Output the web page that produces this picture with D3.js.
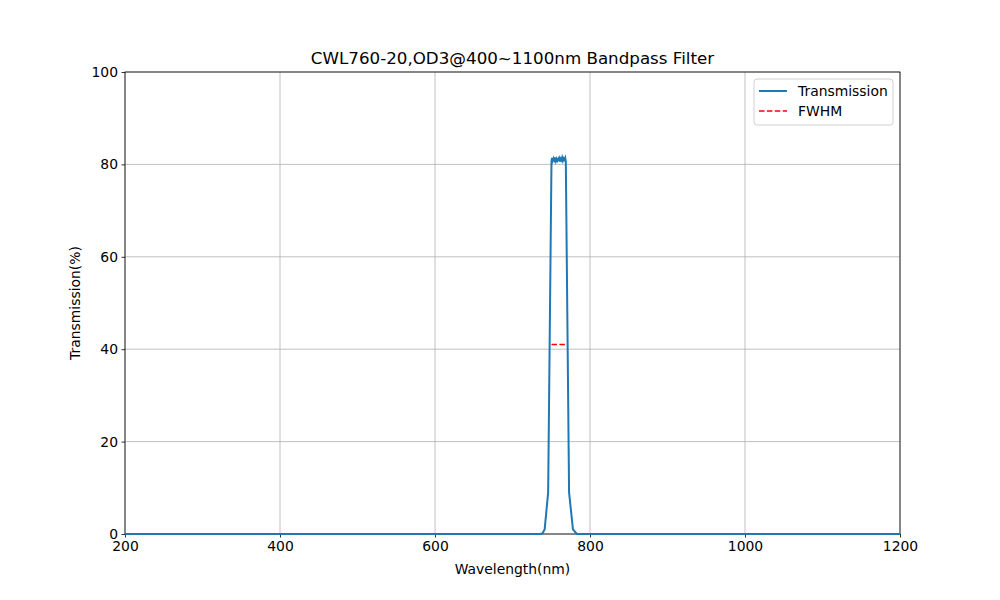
<!DOCTYPE html>
<html>
<head>
<meta charset="utf-8">
<script src="https://cdn.jsdelivr.net/npm/d3@7"></script>
<style>
  body { margin: 0; background: #fff; }
  text { font-family: "DejaVu Sans", sans-serif; }
</style>
</head>
<body>
<div id="chart"></div>
<script>
// transmission curve (nm, %)
var wavelength = [200, 400, 600, 700, 735, 738.5, 741.5, 746, 750.3, 751, 752, 753, 754, 755, 756, 757, 758, 759, 760, 761, 762, 763, 764, 765, 766, 767, 768, 768.8, 773, 778, 783, 790, 900, 1100, 1200];
var transmission = [0, 0, 0, 0, 0, 0.1, 1, 9, 80.6, 81.4, 80.8, 81.3, 80.9, 81.5, 80.7, 81.2, 80.8, 81.1, 81.4, 80.6, 81.2, 80.9, 81.5, 80.8, 81.3, 81.0, 81.4, 80.6, 9, 1, 0, 0, 0, 0, 0];
// full width at half maximum
var fwhmX = [750.3, 769.3];
var fwhmY = [41, 41];

var xTicks = [200, 400, 600, 800, 1000, 1200];
var yTicks = [0, 20, 40, 60, 80, 100];

var margin = {top: 72, right: 100, bottom: 66, left: 125},
    width = 1000 - margin.left - margin.right,
    height = 600 - margin.top - margin.bottom;

var svg = d3.select("#chart")
  .append("svg")
  .attr("width", 1000)
  .attr("height", 600)
  .append("g")
  .attr("transform", "translate(" + margin.left + "," + margin.top + ")");

var x = d3.scaleLinear().domain([200, 1200]).range([0, width]);
var y = d3.scaleLinear().domain([0, 100]).range([height, 0]);

// grid
svg.append("g").selectAll("line").data(xTicks).enter().append("line")
  .attr("x1", function(d) { return x(d); })
  .attr("x2", function(d) { return x(d); })
  .attr("y1", 0).attr("y2", height)
  .style("stroke", "#b0b0b0").style("stroke-width", 0.8);
svg.append("g").selectAll("line").data(yTicks).enter().append("line")
  .attr("y1", function(d) { return y(d); })
  .attr("y2", function(d) { return y(d); })
  .attr("x1", 0).attr("x2", width)
  .style("stroke", "#b0b0b0").style("stroke-width", 0.8);

// axes
var xAxis = svg.append("g")
  .attr("transform", "translate(0," + height + ")")
  .call(d3.axisBottom(x).tickValues(xTicks).tickSize(3.5).tickPadding(3.5).tickFormat(d3.format("d")));
var yAxis = svg.append("g")
  .call(d3.axisLeft(y).tickValues(yTicks).tickSize(3.5).tickPadding(3.5));
[xAxis, yAxis].forEach(function(a) {
  a.select(".domain").remove();
  a.selectAll("text").style("font-size", "13.9px").style("fill", "#000");
  a.selectAll("line").style("stroke", "#000").style("stroke-width", 0.8);
});

// frame
svg.append("rect")
  .attr("width", width).attr("height", height)
  .style("fill", "none").style("stroke", "#000").style("stroke-width", 0.8);

// transmission line
var pts = wavelength.map(function(d, i) { return [d, transmission[i]]; });
var line = d3.line()
  .x(function(d) { return x(d[0]); })
  .y(function(d) { return y(d[1]); });
svg.append("path")
  .datum(pts)
  .attr("d", line)
  .style("fill", "none")
  .style("stroke", "#1f77b4")
  .style("stroke-width", 2);

// FWHM
svg.append("path")
  .datum(fwhmX.map(function(d, i) { return [d, fwhmY[i]]; }))
  .attr("d", line)
  .style("fill", "none")
  .style("stroke", "red")
  .style("stroke-width", 1.5)
  .style("stroke-dasharray", "5.5,2.4");

// labels
svg.append("text")
  .attr("x", width / 2).attr("y", -8)
  .style("text-anchor", "middle")
  .style("font-size", "16.7px")
  .text("CWL760-20,OD3@400~1100nm Bandpass Filter");
svg.append("text")
  .attr("x", width / 2).attr("y", height + 40)
  .style("text-anchor", "middle")
  .style("font-size", "13.9px")
  .text("Wavelength(nm)");
svg.append("text")
  .attr("transform", "rotate(-90)")
  .attr("x", -height / 2).attr("y", -45)
  .style("text-anchor", "middle")
  .style("font-size", "13.9px")
  .text("Transmission(%)");

// legend
var lg = svg.append("g").attr("transform", "translate(" + (width - 146) + ",7)");
lg.append("rect")
  .attr("width", 139).attr("height", 46).attr("rx", 3)
  .style("fill", "#fff").style("fill-opacity", 0.8)
  .style("stroke", "#d0d0d0").style("stroke-width", 1);
lg.append("line").attr("x1", 5).attr("x2", 33).attr("y1", 12).attr("y2", 12)
  .style("stroke", "#1f77b4").style("stroke-width", 2);
lg.append("line").attr("x1", 5).attr("x2", 33).attr("y1", 32).attr("y2", 32)
  .style("stroke", "red").style("stroke-width", 1.5).style("stroke-dasharray", "5.5,2.4");
lg.append("text").attr("x", 44).attr("y", 17).style("font-size", "13.9px").text("Transmission");
lg.append("text").attr("x", 44).attr("y", 37).style("font-size", "13.9px").text("FWHM");
</script>
</body>
</html>
